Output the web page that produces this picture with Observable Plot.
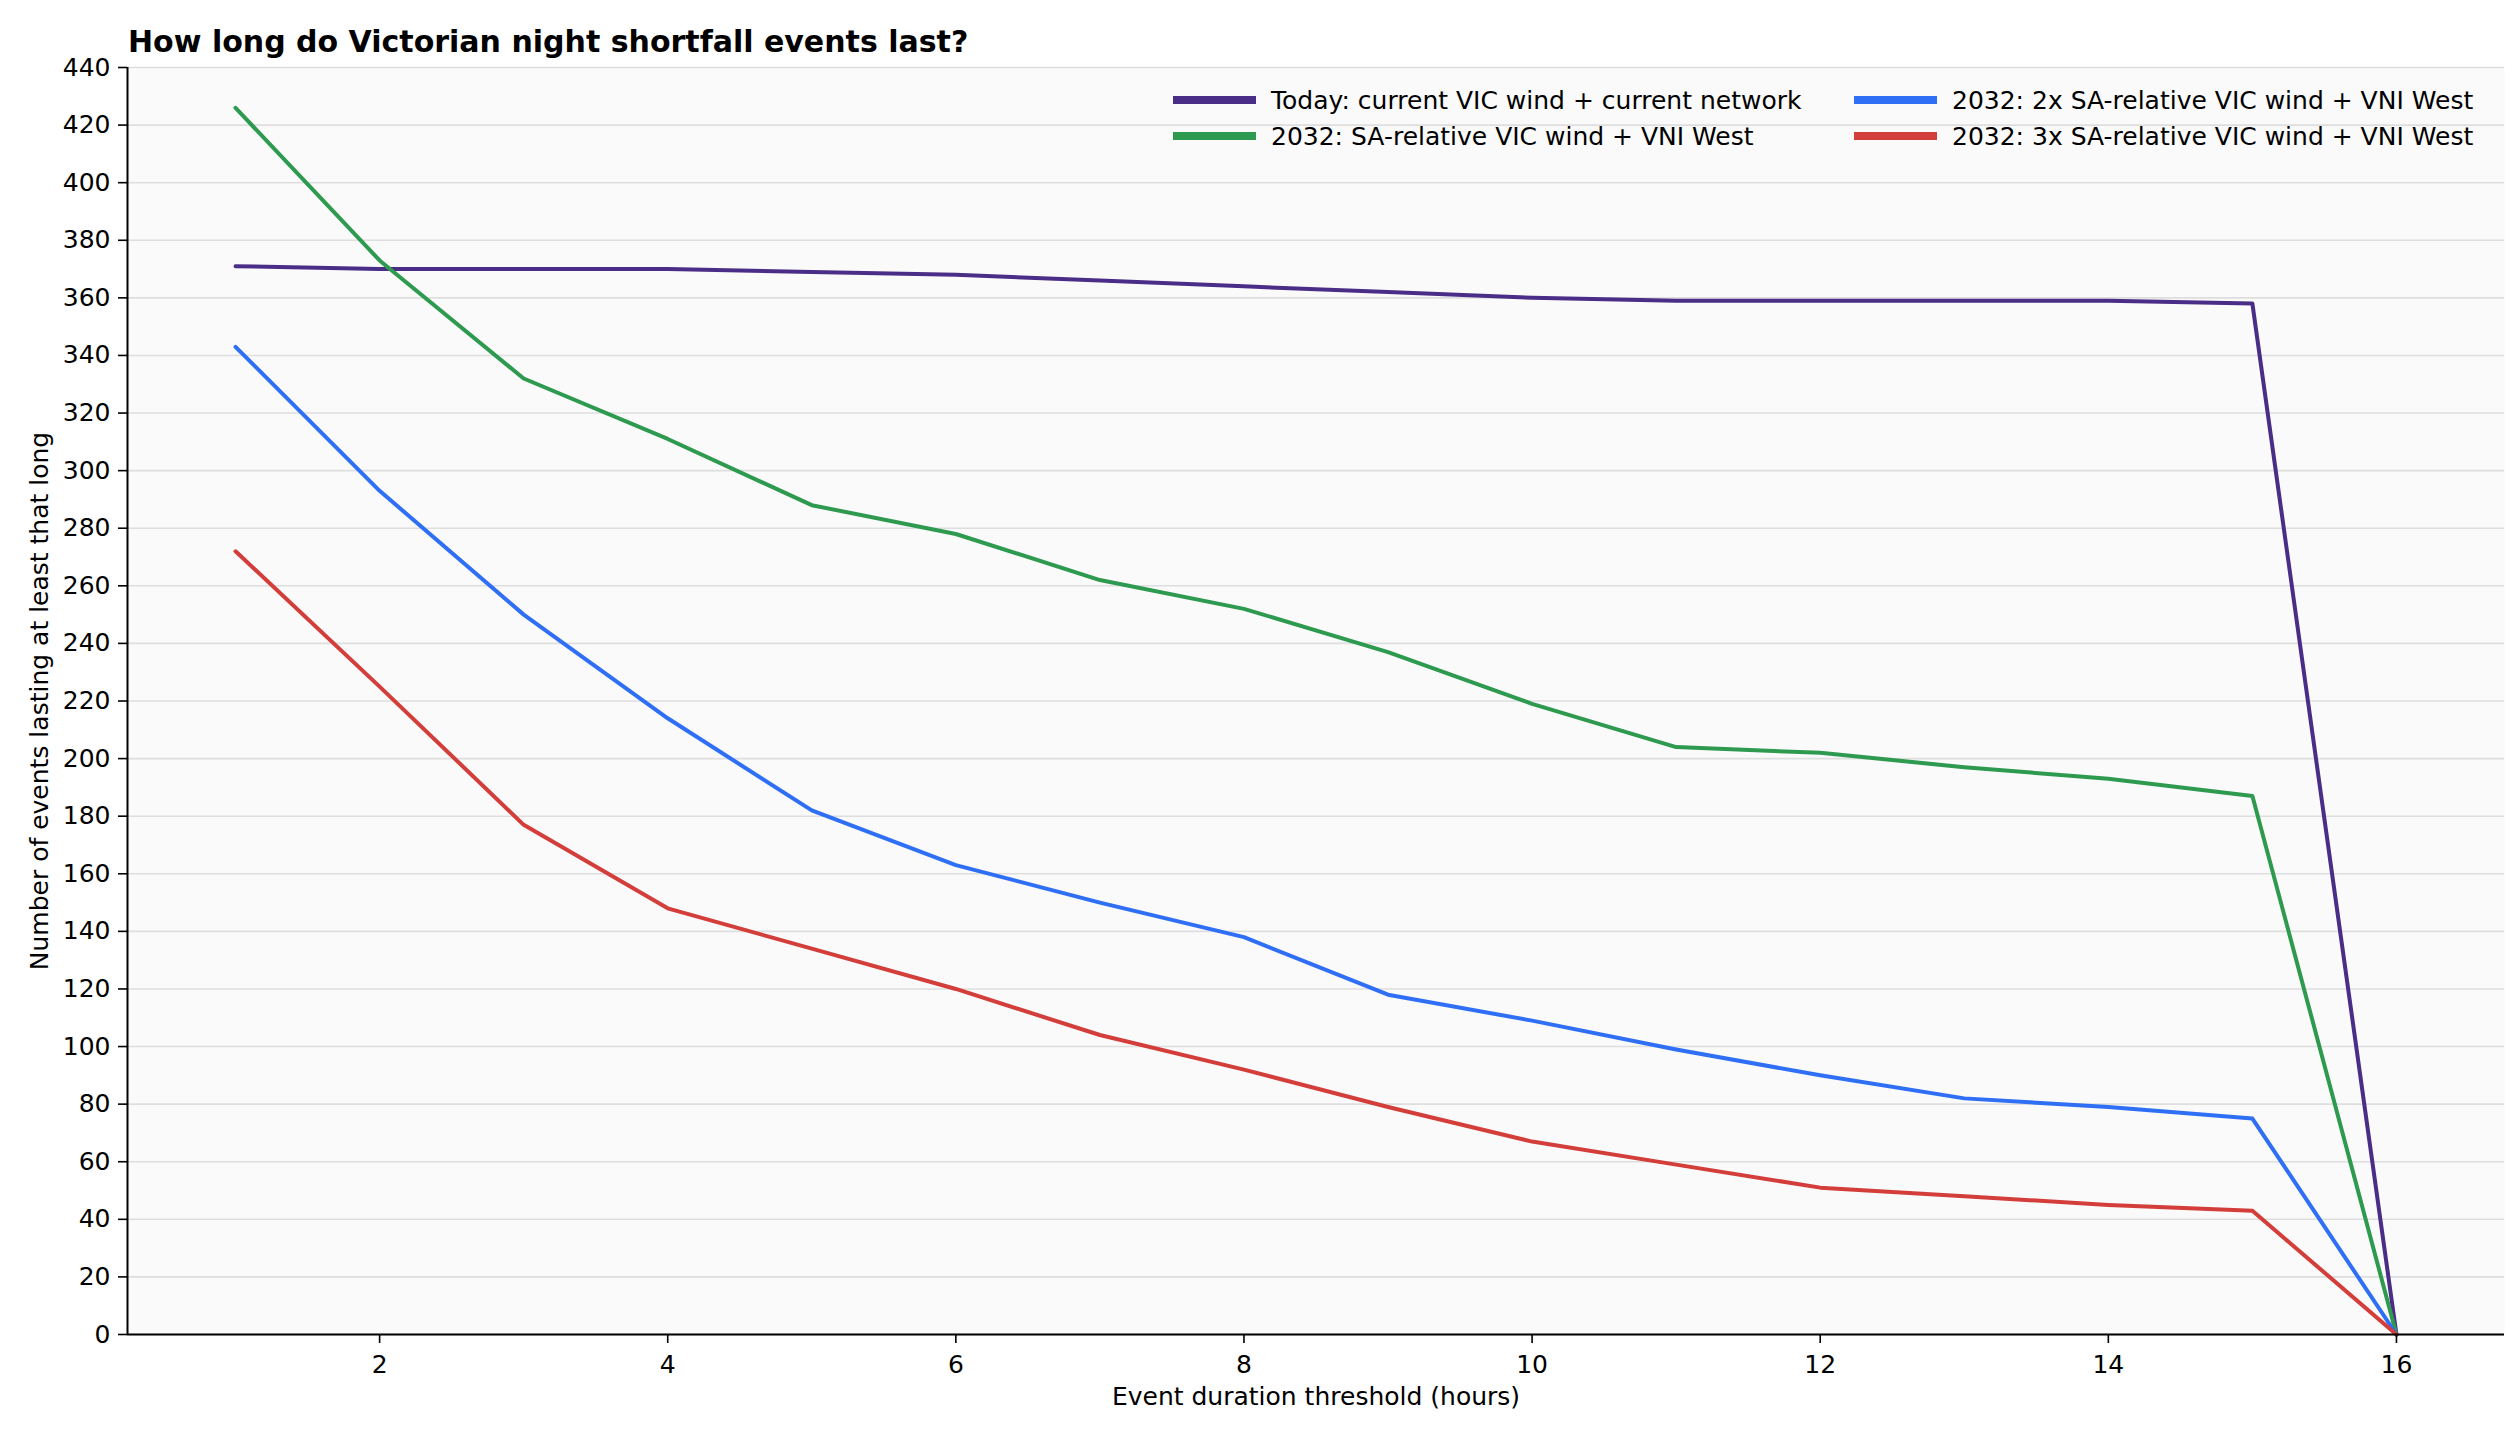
<!DOCTYPE html>
<html>
<head>
<meta charset="utf-8">
<script src="https://cdn.jsdelivr.net/npm/d3@7"></script>
<script src="https://cdn.jsdelivr.net/npm/@observablehq/plot@0.6"></script>
<style>
  html, body { margin: 0; padding: 0; background: #ffffff; }
  #wrap { position: relative; width: 2520px; height: 1440px; font-family: "DejaVu Sans", sans-serif; }
  #title { position: absolute; left: 128px; top: 26.6px; font-size: 30px; line-height: 1; font-weight: bold; color: #000; white-space: nowrap; }
  #legend { position: absolute; left: 1173px; top: 82px; display: grid; grid-template-columns: 681px auto; font-size: 25px; color: #000; }
  .item { display: flex; align-items: center; height: 36px; line-height: 1; white-space: nowrap; }
  .swatch { display: inline-block; width: 83px; height: 8px; margin-right: 15px; }
  #chart { position: absolute; left: 0; top: 0; }
</style>
</head>
<body>
<div id="wrap">
  <div id="chart"></div>
  <div id="title"></div>
  <div id="legend"></div>
</div>
<script>
const title = "How long do Victorian night shortfall events last?";
const xLabel = "Event duration threshold (hours)";
const yLabel = "Number of events lasting at least that long";

const hours = [1, 2, 3, 4, 5, 6, 7, 8, 9, 10, 11, 12, 13, 14, 15, 16];
const seriesNames = [
  "Today: current VIC wind + current network",
  "2032: SA-relative VIC wind + VNI West",
  "2032: 2x SA-relative VIC wind + VNI West",
  "2032: 3x SA-relative VIC wind + VNI West"
];
const seriesColors = ["#4a2d86", "#2e9a4f", "#2f6ff6", "#d33d3a"];

const today   = [371, 370, 370, 370, 369, 368, 366, 364, 362, 360, 359, 359, 359, 359, 358, 0];
const sa1x    = [426, 373, 332, 311, 288, 278, 262, 252, 237, 219, 204, 202, 197, 193, 187, 0];
const sa2x    = [343, 293, 250, 214, 182, 163, 150, 138, 118, 109, 99, 90, 82, 79, 75, 0];
const sa3x    = [272, 225, 177, 148, 134, 120, 104, 92, 79, 67, 59, 51, 48, 45, 43, 0];

const xTicks = [2, 4, 6, 8, 10, 12, 14, 16];
const yTicks = d3.range(0, 441, 20);
const xDomain = [0.25, 16.75];
const yDomain = [0, 440];

const allSeries = [today, sa1x, sa2x, sa3x];
const rows = [];
allSeries.forEach((vals, i) => {
  vals.forEach((v, j) => rows.push({series: seriesNames[i], hours: hours[j], count: v}));
});

const fs = 25;
const fontStyle = {fontFamily: "DejaVu Sans, sans-serif", fontSize: fs + "px", color: "#000", background: "transparent"};

const plot = Plot.plot({
  width: 2520,
  height: 1440,
  marginLeft: 127,
  marginRight: 16,
  marginTop: 67,
  marginBottom: 106,
  style: fontStyle,
  x: {domain: xDomain, label: null},
  y: {domain: yDomain, label: null},
  color: {domain: seriesNames, range: seriesColors},
  marks: [
    Plot.frame({fill: "#fafafa", stroke: null}),
    Plot.gridY(yTicks, {stroke: "#dedede", strokeOpacity: 1, strokeWidth: 1.6}),
    Plot.line(rows, {x: "hours", y: "count", z: "series", stroke: "series", strokeWidth: 4, strokeLinejoin: "round"}),
    Plot.ruleY([yDomain[0]], {stroke: "#000", strokeWidth: 2.2}),
    Plot.ruleX([xDomain[0]], {stroke: "#000", strokeWidth: 2}),
    Plot.axisY(yTicks, {tickSize: 9, tickPadding: 8, label: null, fontSize: fs, stroke: "#000", strokeWidth: 1.6, tickFormat: d3.format("d")}),
    Plot.axisX(xTicks, {tickSize: 9, tickPadding: 12, label: null, fontSize: fs, stroke: "#000", strokeWidth: 1.6, tickFormat: d3.format("d")}),
    Plot.text([yLabel], {frameAnchor: "left", dx: -88, rotate: -90, text: d => d, fontSize: fs, fill: "#000", textAnchor: "middle"}),
    Plot.text([xLabel], {frameAnchor: "bottom", dy: 70, text: d => d, fontSize: fs, fill: "#000", textAnchor: "middle"})
  ]
});
document.getElementById("chart").appendChild(plot);
document.getElementById("title").textContent = title;

const legend = document.getElementById("legend");
// two legend columns, filled column-wise: col1 = series 0,1; col2 = series 2,3
const order = [0, 2, 1, 3];
order.forEach(i => {
  const item = document.createElement("div");
  item.className = "item";
  const sw = document.createElement("span");
  sw.className = "swatch";
  sw.style.background = seriesColors[i];
  const tx = document.createElement("span");
  tx.textContent = seriesNames[i];
  item.appendChild(sw);
  item.appendChild(tx);
  legend.appendChild(item);
});
</script>
</body>
</html>
